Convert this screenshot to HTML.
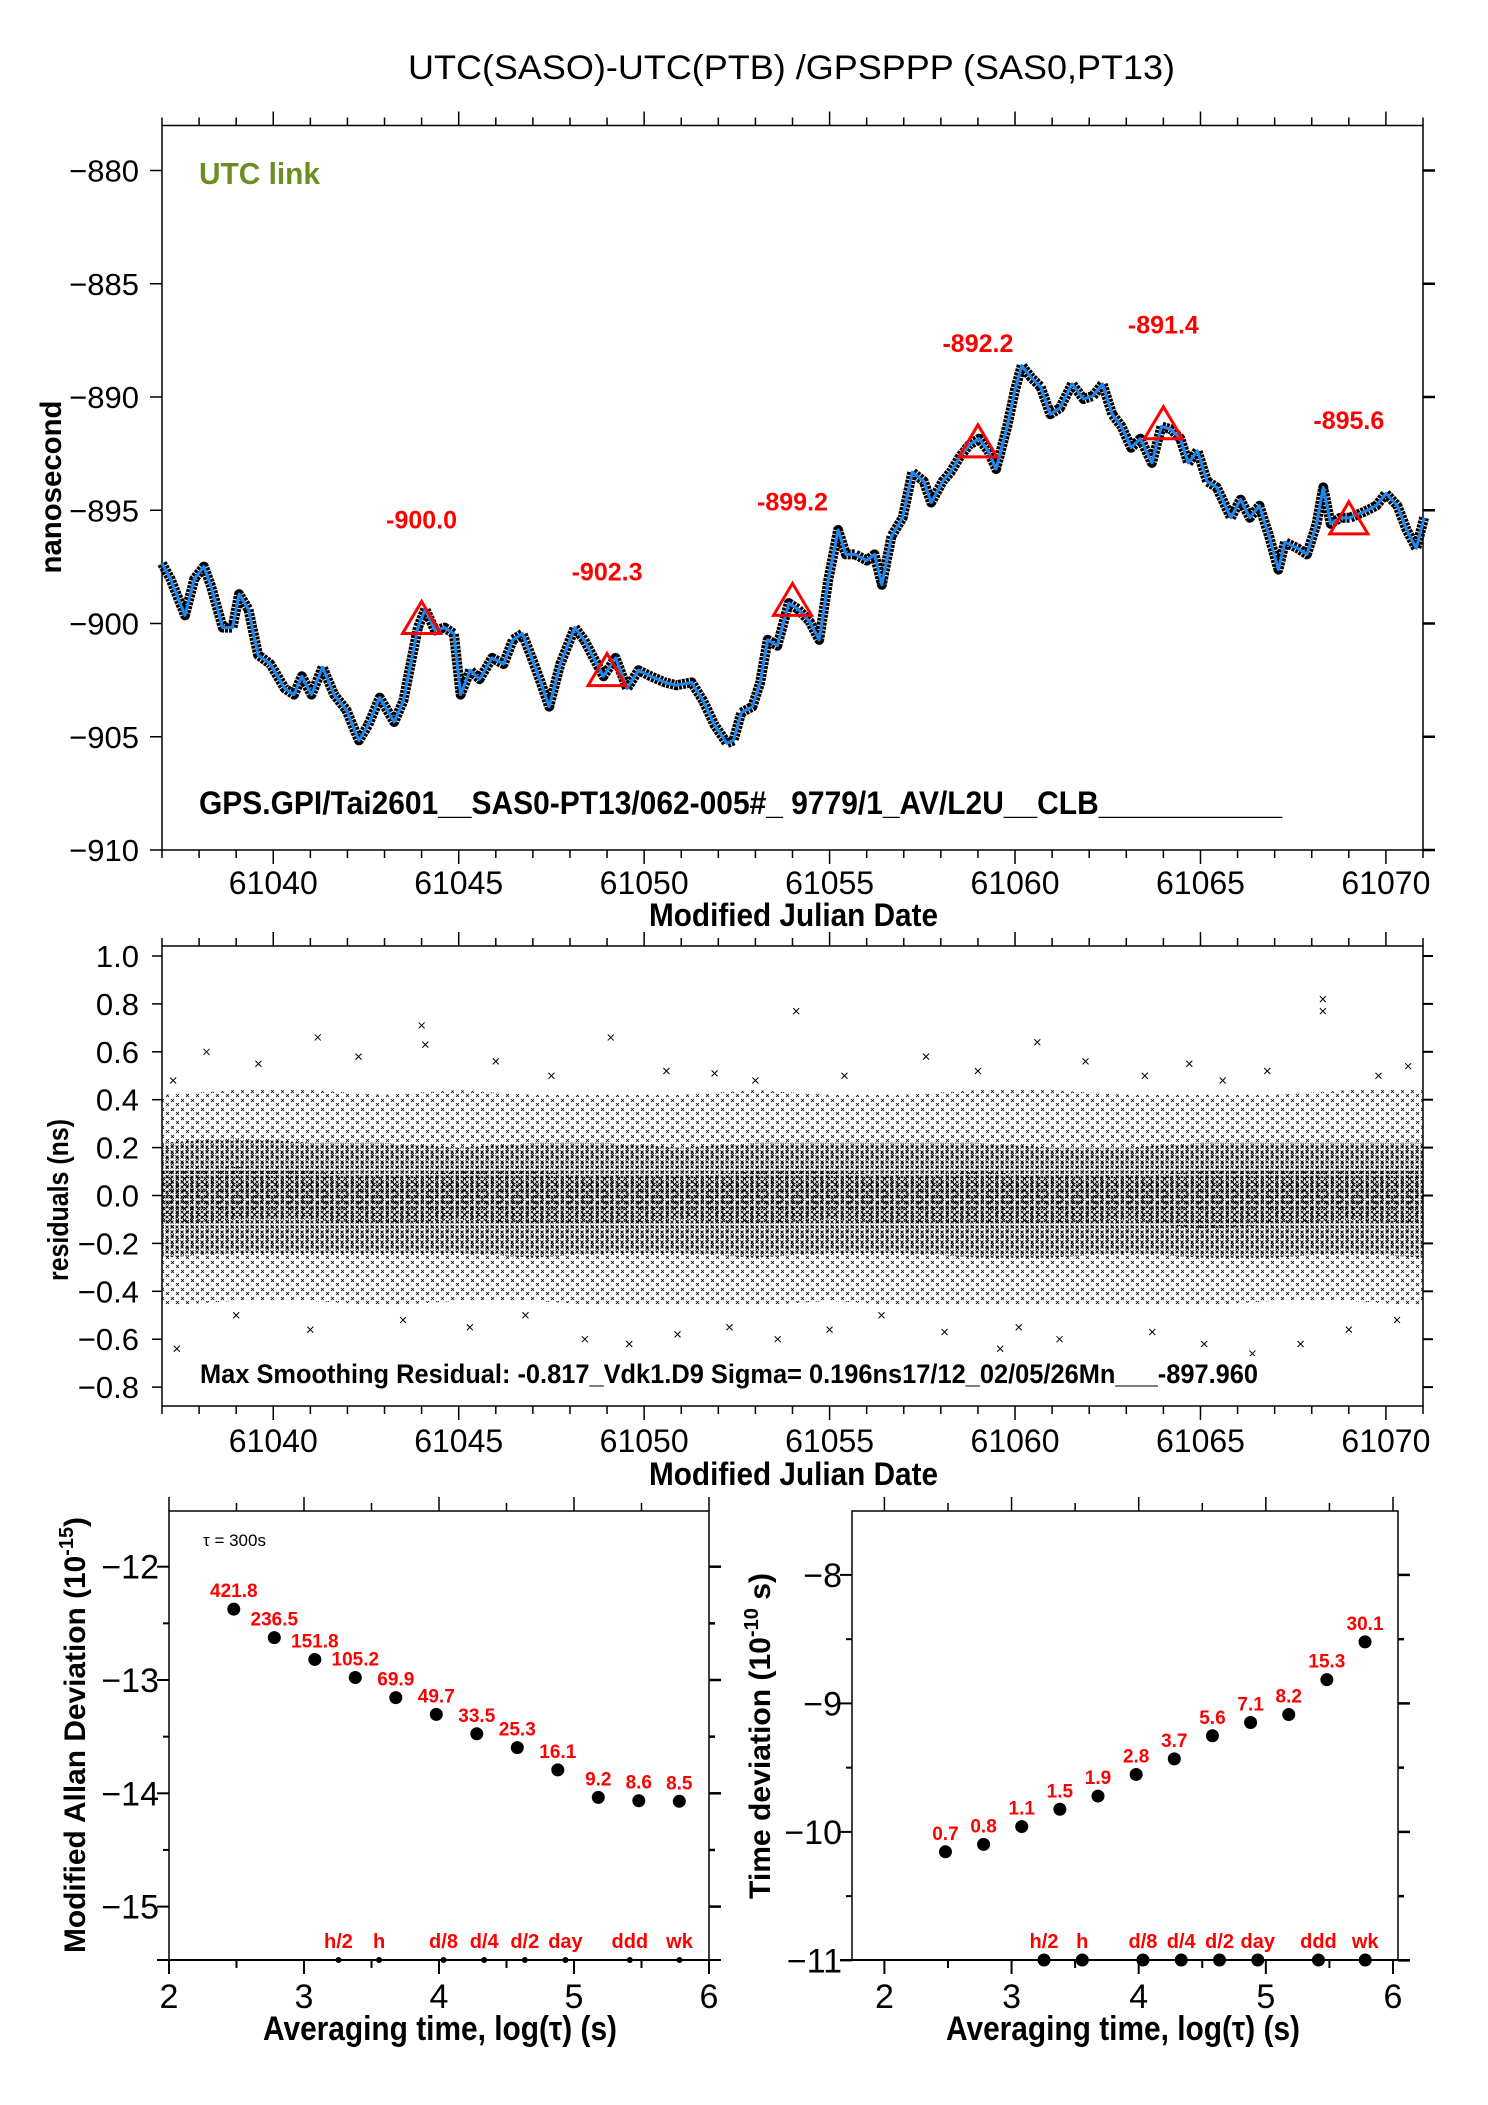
<!DOCTYPE html>
<html><head><meta charset="utf-8"><style>
html,body{margin:0;padding:0;background:#fff}
svg{display:block}
text{font-family:"Liberation Sans Narrow","Liberation Sans",sans-serif}
.b{font-weight:bold}
</style></head><body>
<svg id="chart" width="1488" height="2105" viewBox="0 0 1488 2105" xmlns="http://www.w3.org/2000/svg">
<defs>
<pattern id="pDense" width="5" height="5" patternUnits="userSpaceOnUse">
<path d="M0.5,0.5 L3.5,3.5 M3.5,0.5 L0.5,3.5" stroke="#000" stroke-width="0.9"/>
</pattern>
<pattern id="pCore" width="7" height="6" patternUnits="userSpaceOnUse">
<path d="M1,1 L4,4 M4,1 L1,4" stroke="#000" stroke-width="1"/>
</pattern>
<pattern id="pSparse" width="10" height="9" patternUnits="userSpaceOnUse">
<path d="M1,1 L4,4 M4,1 L1,4 M6,5 L9,8 M9,5 L6,8" stroke="#000" stroke-width="0.8"/>
</pattern>
</defs>
<text x="408" y="79" font-size="34" textLength="767" lengthAdjust="spacingAndGlyphs">UTC(SASO)-UTC(PTB)  /GPSPPP  (SAS0,PT13)</text>
<g id="top"></g>
<g id="res"></g>
<g id="adev"></g>
<g id="tdev"></g>
</svg>
<script>
// ---------- top plot data ----------
const mjd = [61037.00,61037.23,61037.62,61037.87,61038.13,61038.31,61038.64,61038.90,61039.08,61039.33,61039.59,61039.92,61040.31,61040.56,61040.77,61041.03,61041.33,61041.64,61041.97,61042.31,61042.56,61042.87,61043.26,61043.51,61043.90,61044.10,61044.36,61044.62,61044.87,61045.05,61045.31,61045.56,61045.90,61046.21,61046.46,61046.72,61046.97,61047.18,61047.44,61047.74,61048.13,61048.38,61048.64,61048.90,61049.23,61049.54,61049.85,61050.18,61050.56,61050.87,61051.28,61051.59,61051.90,61052.23,61052.41,61052.62,61052.92,61053.13,61053.33,61053.59,61053.90,61054.15,61054.46,61054.72,61054.97,61055.23,61055.44,61055.69,61056.00,61056.21,61056.41,61056.67,61056.97,61057.23,61057.54,61057.74,61058.05,61058.26,61058.51,61058.77,61059.03,61059.28,61059.49,61059.79,61060.00,61060.18,61060.44,61060.69,61060.95,61061.21,61061.54,61061.85,61062.10,61062.36,61062.62,61062.87,61063.13,61063.38,61063.69,61063.95,61064.21,61064.46,61064.67,61064.92,61065.18,61065.44,61065.82,61066.08,61066.33,61066.59,61066.85,61067.10,61067.28,61067.62,61067.87,61068.13,61068.31,61068.51,61068.77,61069.03,61069.41,61069.74,61070.00,61070.31,61070.56,61070.82,61071.03];
const utcDiff = [-897.35,-898.03,-899.64,-898.03,-897.49,-898.29,-900.18,-900.18,-898.70,-899.37,-901.39,-901.79,-902.87,-903.14,-902.33,-903.14,-901.93,-903.14,-903.81,-905.16,-904.48,-903.27,-904.35,-903.41,-900.18,-899.37,-900.31,-900.18,-900.45,-903.14,-902.06,-902.46,-901.52,-901.79,-900.72,-900.45,-901.52,-902.46,-903.67,-901.79,-900.18,-900.72,-901.52,-902.33,-901.52,-902.87,-902.06,-902.33,-902.60,-902.73,-902.60,-903.41,-904.48,-905.29,-905.16,-903.94,-903.67,-902.60,-900.72,-900.98,-899.10,-899.37,-899.91,-900.72,-898.03,-895.87,-896.95,-896.95,-897.22,-896.95,-898.29,-896.14,-895.33,-893.32,-893.72,-894.66,-893.72,-893.32,-892.64,-892.11,-891.84,-892.38,-893.18,-891.30,-889.69,-888.61,-889.15,-889.55,-890.76,-890.49,-889.42,-890.09,-889.95,-889.42,-890.76,-891.30,-892.24,-891.84,-892.91,-891.30,-891.43,-891.84,-892.91,-892.38,-893.72,-893.99,-895.33,-894.53,-895.33,-894.80,-896.14,-897.62,-896.41,-896.68,-896.95,-895.60,-893.99,-895.60,-895.33,-895.33,-895.07,-894.80,-894.26,-894.80,-895.87,-896.68,-895.33];
const markMjd = [61044,61049,61054,61059,61064,61069];
const markVal = [-900.0,-902.3,-899.2,-892.2,-891.4,-895.6];
const markLbl = ["-900.0","-902.3","-899.2","-892.2","-891.4","-895.6"];
const topYTicks = [-880,-885,-890,-895,-900,-905,-910];
const mjdTicks = [61040,61045,61050,61055,61060,61065,61070];
// ---------- residual data ----------
const resDay = [61037,61039,61041,61043,61045,61047,61049,61051,61053,61055,61057,61059,61061,61063,61065,61067,61069,61071];
const resDenseHi = [0.22,0.24,0.22,0.22,0.2,0.22,0.22,0.2,0.22,0.22,0.22,0.22,0.2,0.2,0.22,0.22,0.22,0.22];
const resDenseLo = [-0.26,-0.24,-0.24,-0.24,-0.24,-0.26,-0.24,-0.24,-0.26,-0.24,-0.24,-0.26,-0.26,-0.24,-0.26,-0.26,-0.24,-0.26];
const resCoreHi = [0.1,0.12,0.1,0.08,0.1,0.1,0.08,0.08,0.1,0.1,0.08,0.1,0.08,0.08,0.1,0.1,0.1,0.1];
const resCoreLo = [-0.12,-0.1,-0.1,-0.12,-0.1,-0.12,-0.12,-0.1,-0.12,-0.1,-0.12,-0.12,-0.12,-0.1,-0.14,-0.12,-0.1,-0.12];
const resSparseHi = [0.42,0.44,0.44,0.42,0.44,0.42,0.42,0.42,0.44,0.42,0.42,0.44,0.44,0.42,0.42,0.42,0.44,0.44];
const resSparseLo = [-0.46,-0.44,-0.44,-0.46,-0.44,-0.44,-0.46,-0.46,-0.46,-0.44,-0.46,-0.46,-0.46,-0.46,-0.46,-0.44,-0.44,-0.46];
const outMjd = [61037.3,61038.2,61039.6,61041.2,61042.3,61044.0,61044.1,61046.0,61047.5,61049.1,61050.6,61051.9,61053.0,61054.1,61055.4,61057.6,61059.0,61060.6,61061.9,61063.5,61064.7,61065.6,61066.8,61068.3,61068.3,61069.8,61070.6,61037.4,61039.0,61041.0,61043.5,61045.3,61046.8,61048.4,61049.6,61050.9,61052.3,61053.6,61055.0,61056.4,61058.1,61059.6,61060.1,61061.2,61062.5,61063.7,61065.1,61066.4,61067.7,61069.0,61070.3];
const outVal = [0.48,0.6,0.55,0.66,0.58,0.71,0.63,0.56,0.5,0.66,0.52,0.51,0.48,0.77,0.5,0.58,0.52,0.64,0.56,0.5,0.55,0.48,0.52,0.82,0.77,0.5,0.54,-0.64,-0.5,-0.56,-0.52,-0.55,-0.5,-0.6,-0.62,-0.58,-0.55,-0.6,-0.56,-0.5,-0.57,-0.64,-0.55,-0.6,-0.7,-0.57,-0.62,-0.66,-0.62,-0.56,-0.52];
const resYTicks = [1.0,0.8,0.6,0.4,0.2,0.0,-0.2,-0.4,-0.6,-0.8];
// ---------- ADEV / TDEV ----------
const logTau = [2.48,2.78,3.08,3.38,3.68,3.98,4.28,4.58,4.88,5.18,5.48,5.78];
const adevVals = [421.8,236.5,151.8,105.2,69.9,49.7,33.5,25.3,16.1,9.2,8.6,8.5];
const tdevVals = [0.7,0.8,1.1,1.5,1.9,2.8,3.7,5.6,7.1,8.2,15.3,30.1];
const tauMarkNames = ["h/2","h","d/8","d/4","d/2","day","ddd","wk"];
const tauMarkSec = [1800,3600,10800,21600,43200,86400,259200,604800];
const adevYTicks = [-12,-13,-14,-15];
const tdevYTicks = [-8,-9,-10,-11];
const logTicks = [2,3,4,5,6];

const NS="http://www.w3.org/2000/svg";
function mk(parent,tag,attrs,txt){const e=document.createElementNS(NS,tag);for(const k in attrs)e.setAttribute(k,attrs[k]);if(txt!==undefined)e.textContent=txt;parent.appendChild(e);return e;}

// ===== TOP PLOT =====
(function(){
const g=document.getElementById('top');
const L=162,R=1423,T=125.5,B=850;
const xs=d=>L+(d-61037)/(61071-61037)*(R-L);
const ys=v=>B-(v+910)/30*(B-170.5);
let e=mk(g,'rect',{x:L,y:T,width:R-L,height:B-T,fill:'none',stroke:'#000','stroke-width':1.5});

for(let d=61037;d<=61071;d++){const maj=d%5===0;const len=maj?14:8;const x=xs(d);
mk(g,'line',{x1:x,y1:B,x2:x,y2:B+len,stroke:'#000','stroke-width':1.5});
mk(g,'line',{x1:x,y1:T,x2:x,y2:T-len,stroke:'#000','stroke-width':1.5});}
mjdTicks.forEach(t=>{const el=mk(g,'text',{x:xs(t),y:894,'font-size':32,'text-anchor':'middle'},String(t));
});
topYTicks.forEach(t=>{const y=ys(t);
mk(g,'line',{x1:L,y1:y,x2:L-12,y2:y,stroke:'#000','stroke-width':1.5});
mk(g,'line',{x1:R,y1:y,x2:R+12,y2:y,stroke:'#000','stroke-width':2.5});
const el=mk(g,'text',{x:139,y:y+11,'font-size':31,'text-anchor':'end'},'\u2212'+Math.abs(t));
});
let pts=mjd.map((d,i)=>xs(d).toFixed(1)+','+ys(utcDiff[i]).toFixed(1)).join(' ');
e=mk(g,'polyline',{points:pts,fill:'none',stroke:'#000','stroke-width':10,'stroke-linejoin':'round','stroke-dasharray':'3 1'});

e=mk(g,'polyline',{points:pts,fill:'none',stroke:'#1e88f0','stroke-width':3,'stroke-linejoin':'round'});

markMjd.forEach((d,i)=>{const x=xs(d),y=ys(markVal[i]);
const t=mk(g,'polygon',{points:`${x-19},${y+10} ${x+19},${y+10} ${x},${y-22}`,fill:'none',stroke:'#ff0000','stroke-width':3});

const l=mk(g,'text',{x:x,y:y-95,'font-size':25,'text-anchor':'middle',fill:'#ff0000','class':'b'},markLbl[i]);
});
e=mk(g,'text',{x:199,y:184,'font-size':31,fill:'#6b8e23','class':'b',textLength:121,lengthAdjust:'spacingAndGlyphs'},'UTC link');

e=mk(g,'text',{x:199,y:814,'font-size':32,'class':'b',textLength:1083,lengthAdjust:'spacingAndGlyphs'},'GPS.GPI/Tai2601__SAS0-PT13/062-005#_  9779/1_AV/L2U__CLB___________');

e=mk(g,'text',{x:649,y:926,'font-size':32,'class':'b',textLength:289,lengthAdjust:'spacingAndGlyphs'},'Modified Julian Date');

e=mk(g,'text',{x:0,y:0,'font-size':30,'class':'b','text-anchor':'middle',transform:'translate(61,487) rotate(-90)',textLength:173,lengthAdjust:'spacingAndGlyphs',style:'font-family:"Liberation Sans",sans-serif'},'nanosecond');

})();

// ===== RESIDUAL PLOT =====
(function(){
const g=document.getElementById('res');
const L=162,R=1423,T=946,B=1406;
const xs=d=>L+(d-61037)/(61071-61037)*(R-L);
const ys=v=>1195.5-v*239.5;
function band(hi,lo,fill,name){
let d='M'+resDay.map((x,i)=>xs(x).toFixed(1)+','+ys(hi[i]).toFixed(1)).join(' L');
for(let i=resDay.length-1;i>=0;i--)d+=' L'+xs(resDay[i]).toFixed(1)+','+ys(lo[i]).toFixed(1);
const e=mk(g,'path',{d:d+'Z',fill:fill});
}
band(resSparseHi,resSparseLo,'url(#pSparse)','residual-sparse-cloud');
band(resDenseHi,resDenseLo,'url(#pDense)','residual-dense-cloud');
band(resCoreHi,resCoreLo,'url(#pCore)','residual-core-cloud');
outMjd.forEach((d,i)=>{const x=xs(d),y=ys(outVal[i]);
const e=mk(g,'path',{d:`M${x-3},${y-3}L${x+3},${y+3}M${x+3},${y-3}L${x-3},${y+3}`,stroke:'#000','stroke-width':1});
});
let e=mk(g,'rect',{x:L,y:T,width:R-L,height:B-T,fill:'none',stroke:'#000','stroke-width':1.5});

for(let d=61037;d<=61071;d++){const maj=d%5===0;const len=maj?14:8;const x=xs(d);
mk(g,'line',{x1:x,y1:B,x2:x,y2:B+len,stroke:'#000','stroke-width':1.5});
mk(g,'line',{x1:x,y1:T,x2:x,y2:T-len,stroke:'#000','stroke-width':1.5});}
mjdTicks.forEach(t=>{const el=mk(g,'text',{x:xs(t),y:1452,'font-size':32,'text-anchor':'middle'},String(t));
});
resYTicks.forEach(t=>{const y=ys(t);
mk(g,'line',{x1:L,y1:y,x2:L-10,y2:y,stroke:'#000','stroke-width':1.5});
mk(g,'line',{x1:R,y1:y,x2:R+10,y2:y,stroke:'#000','stroke-width':2});
const s=(t<0?'\u2212':'')+Math.abs(t).toFixed(1);
const el=mk(g,'text',{x:139,y:y+11,'font-size':31,'text-anchor':'end'},s);
});
e=mk(g,'rect',{x:196,y:1356,width:1066,height:34,fill:'#fff'});
e=mk(g,'text',{x:200,y:1383,'font-size':27,'class':'b',textLength:1058,lengthAdjust:'spacingAndGlyphs'},'Max Smoothing Residual: -0.817_Vdk1.D9  Sigma= 0.196ns17/12_02/05/26Mn___-897.960');

e=mk(g,'text',{x:649,y:1485,'font-size':32,'class':'b',textLength:289,lengthAdjust:'spacingAndGlyphs'},'Modified Julian Date');

e=mk(g,'text',{x:0,y:0,'font-size':29,'class':'b','text-anchor':'middle',transform:'translate(68,1200) rotate(-90)',textLength:162,lengthAdjust:'spacingAndGlyphs',style:'font-family:"Liberation Sans",sans-serif'},'residuals (ns)');

})();

// ===== STABILITY PLOTS =====
function stab(gid,L,R,x2,x6,y0v,y0p,perU,vals,conv,yTicks,titleX,dotR){
const g=document.getElementById(gid);
const T=1511,B=1960;
const xs=l=>x2+(l-2)*(x6-x2)/4;
const ys=v=>y0p+(y0v-v)*perU;
let e=mk(g,'rect',{x:L,y:T,width:R-L,height:B-T,fill:'none',stroke:'#000','stroke-width':1.5});

mk(g,'line',{x1:L-12,y1:B,x2:R+12,y2:B,stroke:'#000','stroke-width':2});
for(let l=2;l<=6.001;l+=0.5){const x=xs(l);const maj=Math.abs(l-Math.round(l))<0.01;const len=maj?14:8;
mk(g,'line',{x1:x,y1:B,x2:x,y2:B+len,stroke:'#000','stroke-width':2});
mk(g,'line',{x1:x,y1:T,x2:x,y2:T-(maj?14:8),stroke:'#000','stroke-width':1.5});}
logTicks.forEach(t=>{const el=mk(g,'text',{x:xs(t),y:2008,'font-size':34,'text-anchor':'middle'},String(t));
});
const yMin=yTicks[yTicks.length-1],yMax=yTicks[0];
for(let v=yMax;v>=yMin-0.001;v-=0.5){const y=ys(v);const maj=Math.abs(v-Math.round(v))<0.01;
mk(g,'line',{x1:L,y1:y,x2:L-(maj?12:6),y2:y,stroke:'#000','stroke-width':2});
mk(g,'line',{x1:R,y1:y,x2:R+(maj?12:6),y2:y,stroke:'#000','stroke-width':2.5});}
yTicks.forEach(t=>{const el=mk(g,'text',{x:L-10,y:ys(t)+12,'font-size':34,'text-anchor':'end'},'\u2212'+Math.abs(t));
});
logTau.forEach((l,i)=>{const x=xs(l),y=ys(conv(vals[i]));
const c=mk(g,'circle',{cx:x,cy:y,r:6.5,fill:'#000'});

const t=mk(g,'text',{x:x,y:y-12,'font-size':19,'text-anchor':'middle',fill:'#ff0000','class':'b',style:'font-family:"Liberation Sans",sans-serif'},vals[i].toFixed(1));
});
tauMarkSec.forEach((s,i)=>{const x=xs(Math.log10(s));
const c=mk(g,'circle',{cx:x,cy:B,r:dotR,fill:'#000'});

const t=mk(g,'text',{x:x,y:1948,'font-size':20,'text-anchor':'middle',fill:'#ff0000','class':'b',style:'font-family:"Liberation Sans",sans-serif'},tauMarkNames[i]);
});
e=mk(g,'text',{x:titleX,y:2040,'font-size':34,'class':'b',textLength:354,lengthAdjust:'spacingAndGlyphs'},'Averaging time, log(\u03c4) (s)');

return {g,xs,ys};
}
const a=stab('adev',169,709,169,709,-12,1566.7,113.3,adevVals,v=>Math.log10(v*1e-15),adevYTicks,263,3);
const t=stab('tdev',852,1398,884.4,1393,-8,1574.9,128.5,tdevVals,v=>Math.log10(v*1e-10),tdevYTicks,946,6.5);
let e2=mk(a.g,'text',{x:203,y:1546,'font-size':17,style:'font-family:"Liberation Sans",sans-serif'},'\u03c4 = 300s');

e2=mk(a.g,'text',{x:0,y:0,'font-size':30,'class':'b','text-anchor':'middle',transform:'translate(85,1735) rotate(-90)',textLength:436,lengthAdjust:'spacingAndGlyphs',style:'font-family:"Liberation Sans",sans-serif'});
e2.innerHTML='Modified Allan Deviation (10<tspan font-size="20" dy="-12">-15</tspan><tspan dy="12">)</tspan>';

e2=mk(t.g,'text',{x:0,y:0,'font-size':30,'class':'b','text-anchor':'middle',transform:'translate(770,1736) rotate(-90)',textLength:326,lengthAdjust:'spacingAndGlyphs',style:'font-family:"Liberation Sans",sans-serif'});
e2.innerHTML='Time deviation (10<tspan font-size="20" dy="-12">-10</tspan><tspan dy="12"> s)</tspan>';

</script>
</body></html>
